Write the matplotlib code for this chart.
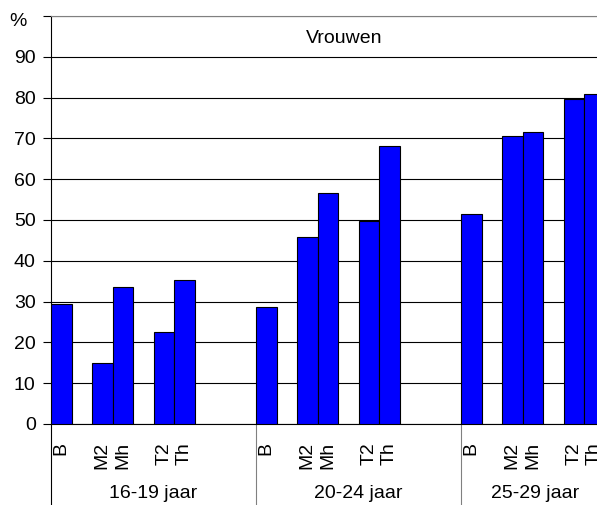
import matplotlib
matplotlib.use("Agg")
import matplotlib.pyplot as plt
import matplotlib.transforms as mtransforms

plt.rcParams['font.family'] = ['Liberation Sans', 'DejaVu Sans']

groups = ["16-19 jaar", "20-24 jaar", "25-29 jaar"]
categories = ["B", "M2", "Mh", "T2", "Th"]
values = {
    "16-19 jaar": [29.3, 15.0, 33.6, 22.5, 35.4],
    "20-24 jaar": [28.7, 45.9, 56.7, 49.8, 68.1],
    "25-29 jaar": [51.5, 70.6, 71.5, 79.7, 81.0],
}
y_ticks = [0, 10, 20, 30, 40, 50, 60, 70, 80, 90, 100]
y_tick_labels = ["0", "10", "20", "30", "40", "50", "60", "70", "80", "90", "%"]
title = "Vrouwen"

# slot layout: B, gap, M2, Mh, gap, T2, Th, gap x3  -> 10 slots per group
slot_offsets = [0, 2, 3, 5, 6]
group_period = 10
FS = 14

fig = plt.figure(figsize=(5.97, 5.05), dpi=100)
ax = fig.add_axes([51 / 597, 1 - 424 / 505, 1 - 51 / 597, (424 - 16) / 505])

xs, hs, labels = [], [], []
for gi, g in enumerate(groups):
    for ci, c in enumerate(categories):
        xs.append(gi * group_period + slot_offsets[ci])
        hs.append(values[g][ci])
        labels.append(c)

ax.bar(xs, hs, width=1.0, align='edge', color='#0000FF', edgecolor='black',
       linewidth=0.8, zorder=3)

ax.set_xlim(0, 546 / 20.5)
ax.set_ylim(0, 100)
ax.set_yticks(y_ticks)
ax.set_yticklabels(y_tick_labels, fontsize=FS)
ax.yaxis.grid(True, color='black', linewidth=0.8, zorder=0)
ax.set_axisbelow(True)
ax.tick_params(axis='y', length=6, width=0.8, direction='out', pad=5)

# shift "%" label down/left as in the reference
pct = ax.get_yticklabels()[-1]
pct.set_transform(pct.get_transform() +
                  mtransforms.ScaledTranslation(-0.09, -0.04, fig.dpi_scale_trans))

ax.set_xticks([x + 0.5 for x in xs])
ax.set_xticklabels(labels, rotation=90, fontsize=FS, va='top', ha='center')
ax.tick_params(axis='x', length=0, pad=13)

ax.spines['right'].set_visible(False)
ax.spines['top'].set_color('#808080')
for s in ['left', 'bottom']:
    ax.spines[s].set_linewidth(0.8)

trans = mtransforms.blended_transform_factory(ax.transData, ax.transAxes)
bottom_ax = -(505 - 424) / 408
for gi in range(len(groups)):
    x0 = gi * group_period
    ax.plot([x0, x0], [0, bottom_ax], transform=trans,
            color='black' if gi == 0 else '#808080',
            linewidth=0.8, clip_on=False)

group_centers = [5.0, 15.0, 23.6]
for gi, g in enumerate(groups):
    ax.text(group_centers[gi], -(494 - 424) / 408, g, transform=trans,
            ha='center', va='center', fontsize=FS)

ax.text(14.3, 94.6, title, ha='center', va='center', fontsize=FS)

fig.savefig("out.png", dpi=100)
